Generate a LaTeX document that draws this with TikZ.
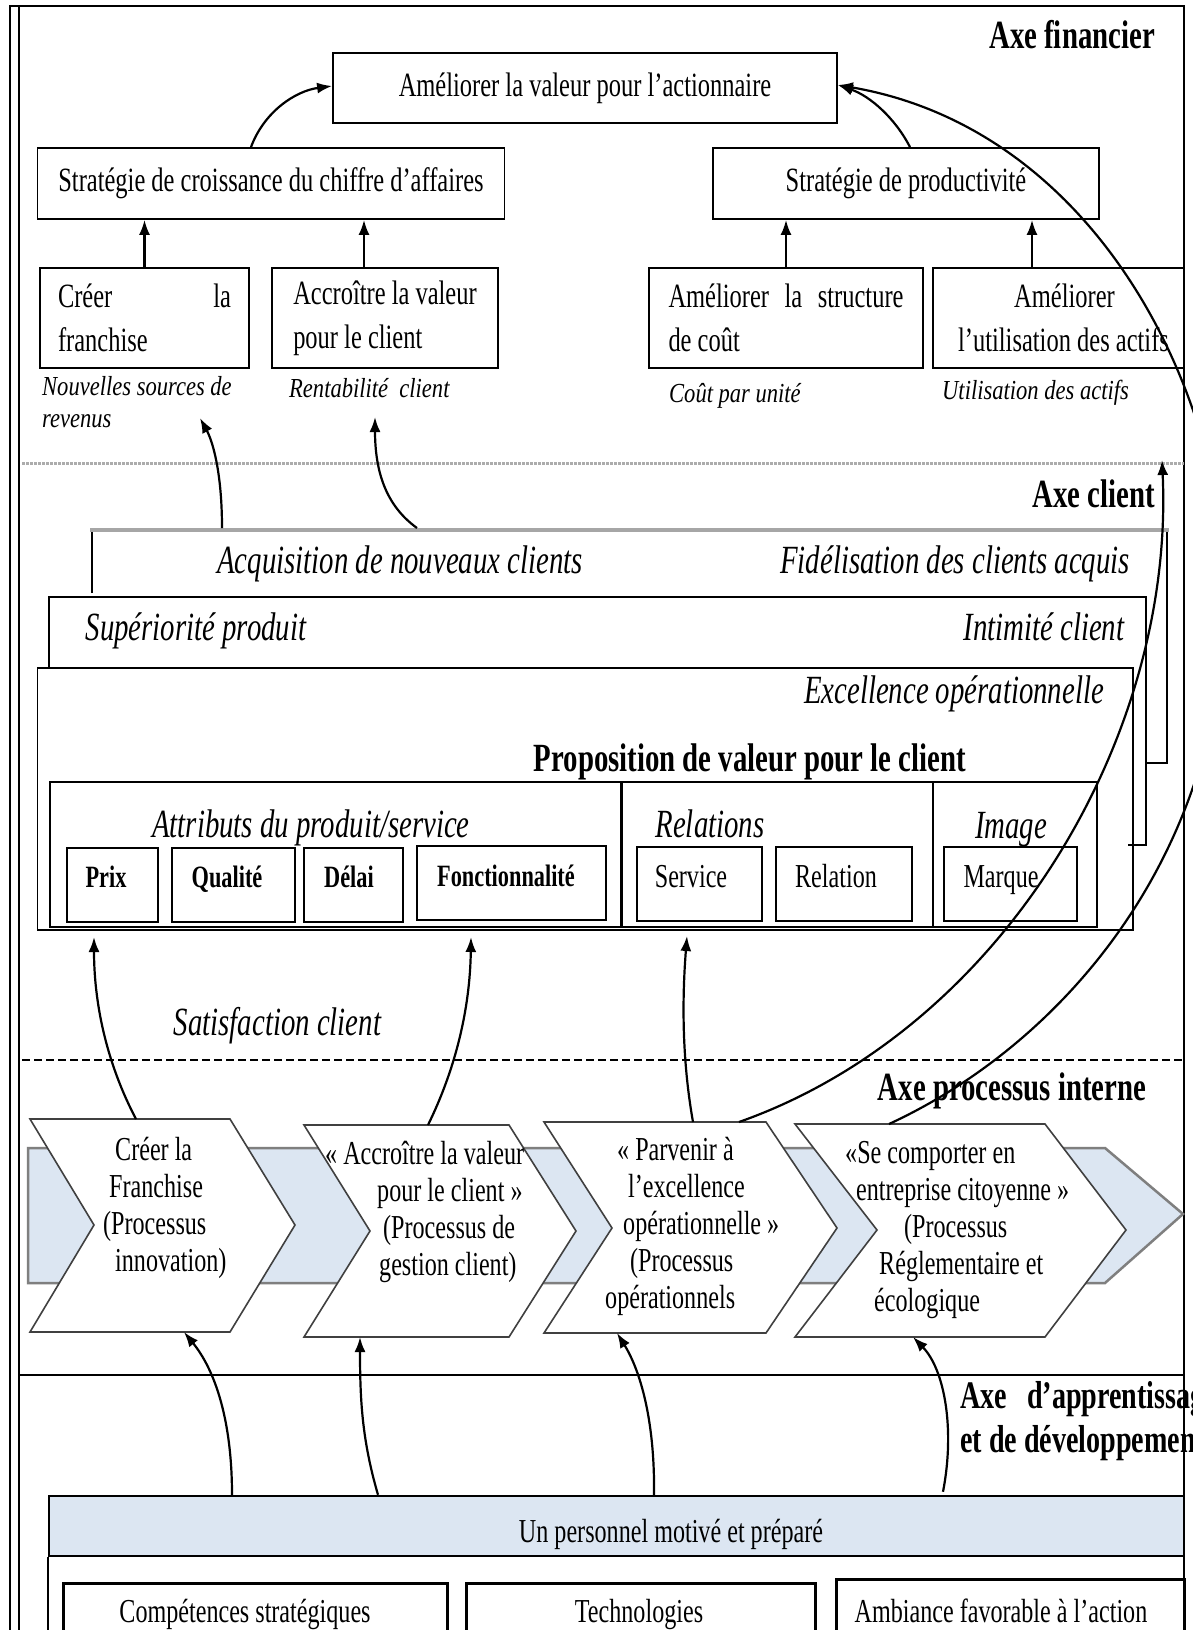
\documentclass[tikz,border=0pt]{standalone}
\usepackage{fontspec}
\setmainfont[FakeStretch=0.72]{Liberation Serif}
\newfontfamily\labfont[FakeStretch=0.82]{Liberation Serif}
\usetikzlibrary{arrows.meta}
\definecolor{bandblue}{HTML}{DCE6F2}
\definecolor{chevline}{HTML}{404040}
\definecolor{bandline}{HTML}{7F7F7F}
\tikzset{
  box/.style={draw, line width=1.8pt, inner sep=0pt},
  txt/.style={font=\fontsize{34}{44}\selectfont, inner sep=0pt},
  head/.style={font=\bfseries\fontsize{40}{44}\selectfont, inner sep=0pt},
  ital/.style={font=\itshape\fontsize{40}{44}\selectfont, inner sep=0pt},
  lab/.style={font=\labfont\itshape\fontsize{27.5}{32}\selectfont, inner sep=0pt, align=left},
  sbold/.style={font=\bfseries\fontsize{31}{34}\selectfont, inner sep=0pt},
  sreg/.style={font=\fontsize{33.5}{36}\selectfont, inner sep=0pt},
  ctext/.style={font=\fontsize{33.5}{37}\selectfont, inner sep=0pt, align=left, anchor=north west},
  arr/.style={line width=2.2pt, -{Latex[length=15pt,width=11pt]}},
  chev/.style={draw=chevline, line width=1.6pt, fill=white, line join=miter},
  frameline/.style={line width=2pt},
  dotline/.style={draw=gray!65, line width=3pt, dash pattern=on 2.5pt off 1.5pt},
  dashline/.style={line width=1.8pt, dash pattern=on 8pt off 4pt},
}
\begin{document}
\begin{tikzpicture}[x=1pt,y=-1pt]
\useasboundingbox (0,0) rectangle (1192,1630);
\fill[white] (0,0) rectangle (1192,1630);

% ---------- outer frame ----------
\draw[frameline] (10,1650) -- (10,6) -- (1184,6) -- (1184,1650);
\draw[frameline] (19,6) -- (19,1650);

% ---------- financial axis ----------
\node[head, anchor=base east] (axf) at (1155,48) {Axe financier};
\node[box, txt, minimum width=504pt, minimum height=70pt] (A) at (585,88) {Améliorer la valeur pour l’actionnaire};
\node[box, txt, minimum width=467pt, minimum height=71pt] (B) at (271,183.5) {Stratégie de croissance du chiffre d’affaires};
\node[box, txt, minimum width=386pt, minimum height=71pt] (C) at (906,183.5) {Stratégie de productivité};
\node[box, txt, minimum width=209pt, minimum height=100pt, align=left] (D) at (144.5,318) {\makebox[173pt][s]{Créer\hfill la}\\franchise};
\node[box, txt, minimum width=226pt, minimum height=100pt, align=left] (E) at (385,318) {Accroître la valeur\\pour le client};
\node[box, txt, minimum width=274pt, minimum height=100pt, align=left] (F) at (786,318) {\makebox[235pt][s]{Améliorer\hfill la\hfill structure}\\de coût};
\node[box, txt, minimum width=251pt, minimum height=100pt, align=center] (G) at (1058.5,318) {\hspace*{12pt}Améliorer\\\hspace*{10pt}l’utilisation des actifs};

\draw[arr] (D.north) -- (D.north |- B.south);
\draw[arr] ([xshift=-21pt]E.north) -- ([xshift=-21pt]E.north |- B.south);
\draw[arr] (F.north) -- (F.north |- C.south);
\draw[arr] ([xshift=-26.5pt]G.north) -- ([xshift=-26.5pt]G.north |- C.south);
\draw[arr] ([xshift=-20pt]B.north) .. controls (264,112) and (295,91) .. ([yshift=2pt]A.west);
\draw[arr] ([xshift=4pt]C.north) .. controls (895,118) and (870,96) .. ([yshift=3pt]A.east);

\node[lab, anchor=north west] (l1) at (42,376) {Nouvelles sources de\\revenus};
\node[lab, anchor=base west] (l2) at (289,397) {Rentabilité\ \ client};
\node[lab, anchor=base west] (l3) at (669,402) {Coût par unité};
\node[lab, anchor=base west] (l4) at (942,399) {Utilisation des actifs};

\draw[dotline] (22,463) -- (1184,463);

% ---------- client axis ----------
\node[head, anchor=base east] (axc) at (1155,507) {Axe client};
\draw[line width=1.6pt] (92,593) -- (92,530);
\draw[line width=1.6pt] (1167,532) -- (1167,763) -- (1146,763);
\draw[line width=4pt, draw=gray!70] (90,530) -- (1169,530);
\draw[line width=1.8pt] (49,668) -- (49,597) -- (1146,597) -- (1146,845) -- (1128,845);
\node[box, minimum width=1095.5pt, minimum height=262pt] (ex) at (585.25,799) {};

\node[ital, anchor=base] (acq) at (400,573) {Acquisition de nouveaux clients};
\node[ital, anchor=base] (fid) at (955,573) {Fidélisation des clients acquis};
\node[ital, anchor=base] (sup) at (196,640) {Supériorité produit};
\node[ital, anchor=base] (inti) at (1044,640) {Intimité client};
\node[ital, anchor=base] (exc) at (954,703) {Excellence opérationnelle};
\node[head, anchor=base] (prop) at (750,771) {Proposition de valeur pour le client};

\node[box, minimum width=1047pt, minimum height=145pt] (pv) at (573.5,854.5) {};
\draw[line width=3pt] (621,782) -- (621,927);
\draw[line width=1.6pt] (933,782) -- (933,927);
\node[ital, anchor=base] (attr) at (311,837) {Attributs du produit/service};
\node[ital, anchor=base] (rel) at (710,837) {Relations};
\node[ital, anchor=base] (img) at (1011,838) {Image};

\node[box, minimum width=91pt, minimum height=74pt] (prix) at (112.5,885) {};
\node[box, minimum width=123pt, minimum height=74pt] (qual) at (233.5,885) {};
\node[box, minimum width=99pt, minimum height=74pt] (delai) at (353.5,885) {};
\node[box, minimum width=189pt, minimum height=74pt] (fonc) at (511.5,883) {};
\node[box, minimum width=125pt, minimum height=74pt] (serv) at (699.5,884) {};
\node[box, minimum width=136pt, minimum height=74pt] (relb) at (844,884) {};
\node[box, minimum width=133pt, minimum height=74pt] (marq) at (1010.5,884) {};
\node[sbold, anchor=base] (prixt) at (106,887) {Prix};
\node[sbold, anchor=base] (qualt) at (227,887) {Qualité};
\node[sbold, anchor=base] (delait) at (349,887) {Délai};
\node[sbold, anchor=base] (fonct) at (506,886) {Fonctionnalité};
\node[sreg, anchor=base] (servt) at (691,887) {Service};
\node[sreg, anchor=base] (relt) at (836,887) {Relation};
\node[sreg, anchor=base] (marqt) at (1001,887) {Marque};

\node[ital, anchor=base] (sat) at (277.5,1035) {Satisfaction client};
\draw[dashline] (22,1060) -- (1184,1060);

% ---------- internal process axis ----------
\node[head, anchor=base] (axp) at (1012,1100) {Axe processus interne};

\draw[draw=bandline, line width=2.5pt, fill=bandblue] (28,1148) -- (1105,1148) -- (1183,1214) -- (1105,1283) -- (28,1283) -- cycle;

\draw[chev] (30,1119) -- (230,1119) -- (295,1225) -- (230,1332) -- (30,1332) -- (94,1225) -- cycle;
\draw[chev] (304,1125) -- (509,1125) -- (576,1231) -- (509,1337) -- (304,1337) -- (370,1231) -- cycle;
\draw[chev] (544,1122) -- (766,1122) -- (837,1228) -- (766,1333) -- (544,1333) -- (612,1228) -- cycle;
\draw[chev] (795,1124) -- (1045,1124) -- (1126,1230) -- (1045,1337) -- (795,1337) -- (877,1230) -- cycle;

\node[ctext] (ch1) at (103,1137) {\hspace*{12pt}Créer la\\\hspace*{6pt}Franchise\\(Processus\\\hspace*{12pt}innovation)};
\node[ctext] (ch2) at (325,1141) {« Accroître la valeur\\\hspace*{52pt}pour le client »\\\hspace*{58pt}(Processus de\\\hspace*{54pt}gestion client)};
\node[ctext] (ch3) at (605,1137) {\hspace*{12pt}« Parvenir à\\\hspace*{23pt}l’excellence\\\hspace*{18pt}opérationnelle »\\\hspace*{25pt}(Processus\\opérationnels};
\node[ctext] (ch4) at (845,1141) {«Se comporter en\\\hspace*{11pt}entreprise citoyenne »\\\hspace*{59pt}(Processus\\\hspace*{34pt}Réglementaire et\\\hspace*{29pt}écologique};

\coordinate (c1t) at (136,1119);
\coordinate (c2t) at (428,1125);
\coordinate (c3t) at (693,1122);
\coordinate (c3r) at (739,1122);
\coordinate (c4t) at (889,1124);
\coordinate (c1b) at (184,1332);
\coordinate (c2b) at (360,1337);
\coordinate (c3b) at (617,1333);
\coordinate (c4b) at (913,1337);
\coordinate (t1) at (94,937);
\coordinate (t2) at (471,937);
\coordinate (t3) at (687,936);
\coordinate (t4) at (1162,460);
\coordinate (fa1) at (222,528);
\coordinate (fa2) at (417,528);
\coordinate (ft1) at (200,418);
\coordinate (ft2) at (375,417);
\coordinate (bend) at (1225,600);

\draw[arr] (c1t) .. controls (105,1060) and (94,1000) .. (t1);
\draw[arr] (c2t) .. controls (455,1070) and (470,1010) .. (t2);
\draw[arr] (c3t) .. controls (682,1060) and (682,1000) .. (t3);
\draw[arr] (c3r) .. controls (1000,1030) and (1175,740) .. (t4);
\draw[arr] (c4t) .. controls (1060,1045) and (1222,860) .. (bend) .. controls (1228,400) and (1100,130) .. ([yshift=3pt]A.east);
\draw[arr] (fa1) .. controls (222,470) and (212,440) .. (ft1);
\draw[arr] (fa2) .. controls (385,505) and (375,470) .. (ft2);

% ---------- learning axis ----------
\draw[line width=2.2pt] (19,1375) -- (1184,1375);
\node[head, font=\bfseries\fontsize{39}{44}\selectfont, anchor=base west] (axa1) at (960,1408) {Axe};
\node[head, font=\bfseries\fontsize{39}{44}\selectfont, anchor=base west] (axa2) at (1027,1408) {d’apprentissage};
\node[head, font=\bfseries\fontsize{39}{44}\selectfont, anchor=base west] (axa3) at (960,1452) {et de développement};

\node[draw, line width=2.5pt, fill=bandblue, minimum width=1135pt, minimum height=60pt, inner sep=0pt] (pers) at (616.5,1526) {};
\node[sreg, anchor=base] (perst) at (671,1542) {Un personnel motivé et préparé};
\draw[line width=2pt] (pers.south west) -- ++(0,100);

\node[draw, line width=2.5pt, minimum width=384pt, minimum height=120pt, anchor=north west, inner sep=0pt] (cs) at (62,1582) {};
\node[draw, line width=2.5pt, minimum width=349pt, minimum height=120pt, anchor=north west, inner sep=0pt] (tech) at (465,1582) {};
\node[draw, line width=2.5pt, minimum width=348pt, minimum height=120pt, anchor=north west, inner sep=0pt] (amb) at (835,1578) {};
\node[sreg, anchor=base] (cst) at (245,1622) {Compétences stratégiques};
\node[sreg, anchor=base] (techt) at (639,1622) {Technologies};
\node[sreg, anchor=base] (ambt) at (1001,1622) {Ambiance favorable à l’action};

\draw[arr] (pers.north -| 232,0) .. controls (232,1420) and (215,1370) .. (c1b);
\draw[arr] (pers.north -| 378,0) .. controls (362,1440) and (360,1400) .. (c2b);
\draw[arr] (pers.north -| 654,0) .. controls (655,1420) and (640,1370) .. (c3b);
\draw[arr] ([yshift=3pt]pers.north -| 943,0) .. controls (955,1430) and (945,1370) .. (c4b);
\end{tikzpicture}
\end{document}
